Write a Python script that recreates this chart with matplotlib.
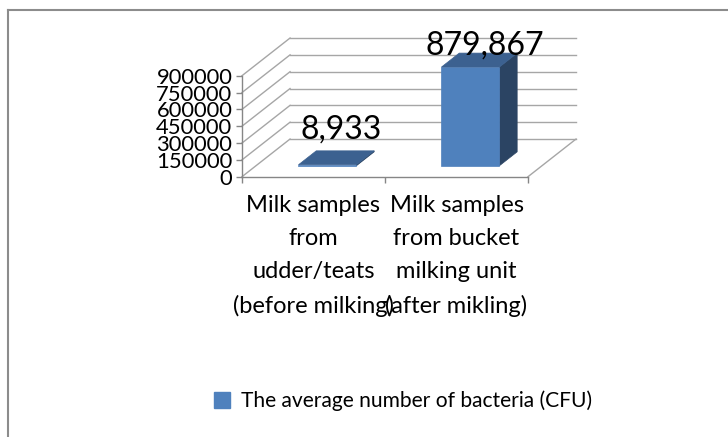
import matplotlib
matplotlib.use("Agg")
import matplotlib.pyplot as plt
from matplotlib.patches import Polygon, Patch
from matplotlib.lines import Line2D

plt.rcParams['font.family'] = ['Lato', 'DejaVu Sans']

categories = ["Milk samples\nfrom\nudder/teats\n(before milking)",
              "Milk samples\nfrom bucket\nmilking unit\n(after mikling)"]
bacteria = [8933, 879867]
y_ticks = [0, 150000, 300000, 450000, 600000, 750000, 900000]
series_name = "The average number of bacteria (CFU)"

# oblique 3D look: full floor depth expressed in data units
ymax = 900000
depth_dx = 0.336
depth_dy = 0.373 * ymax
bar_w = 0.405
bar_front = 0.29   # depth fraction where bars start
bar_depth = 0.37   # depth fraction of each bar
label_shift = [(5, 28), (5, 15)]  # pixel offsets of value labels

grid_col = "#a6a6a6"
axis_col = "#868686"
c_front, c_top, c_side = "#4f81bd", "#3c6190", "#2b4463"

fig = plt.figure(figsize=(7.28, 4.37), dpi=100)
ax = fig.add_axes([242 / 728, 1 - 176.7 / 437, 286 / 728, 101 / 437])
ax.set_xlim(0, 2)
ax.set_ylim(0, ymax)

# back wall and left wall grid
for v in y_ticks:
    ax.plot([depth_dx, 2 + depth_dx], [v + depth_dy, v + depth_dy],
            color=grid_col, lw=1, clip_on=False, zorder=1)
    ax.plot([0, depth_dx], [v, v + depth_dy],
            color=grid_col, lw=1, clip_on=False, zorder=1)
# right floor edge
ax.plot([2, 2 + depth_dx], [0, depth_dy], color=grid_col, lw=1,
        clip_on=False, zorder=1)

# bars
for i, v in enumerate(bacteria):
    x0 = i + 0.5 - bar_w / 2 + bar_front * depth_dx
    y0 = bar_front * depth_dy
    ddx = bar_depth * depth_dx
    ddy = bar_depth * depth_dy
    front = [(x0, y0), (x0 + bar_w, y0), (x0 + bar_w, y0 + v), (x0, y0 + v)]
    top = [(x0, y0 + v), (x0 + bar_w, y0 + v),
           (x0 + bar_w + ddx, y0 + v + ddy), (x0 + ddx, y0 + v + ddy)]
    side = [(x0 + bar_w, y0), (x0 + bar_w + ddx, y0 + ddy),
            (x0 + bar_w + ddx, y0 + v + ddy), (x0 + bar_w, y0 + v)]
    for pts, col in ((side, c_side), (front, c_front), (top, c_top)):
        ax.add_patch(Polygon(pts, closed=True, facecolor=col, edgecolor=col,
                             lw=0.5, clip_on=False, zorder=3))
    ax.annotate(f"{v:,}", (x0 + bar_w / 2 + ddx / 2, y0 + v + ddy / 2),
                xytext=label_shift[i], textcoords="offset pixels",
                ha="center", va="center", fontsize=23, color="black",
                annotation_clip=False, zorder=5)

# axes styling
for s in ("top", "right"):
    ax.spines[s].set_visible(False)
for s in ("left", "bottom"):
    ax.spines[s].set_color(axis_col)
    ax.spines[s].set_linewidth(1)
ax.set_facecolor("none")
ax.set_yticks(y_ticks)
ax.set_yticklabels([str(t) for t in y_ticks])
ax.tick_params(axis="y", length=4, width=1, color=axis_col, pad=3,
               labelsize=15.8)
ax.set_xticks([0, 1, 2])
ax.set_xticklabels(["", "", ""])
ax.tick_params(axis="x", which="major", length=4, width=1, color=axis_col)
ax.set_xticks([0.5, 1.5], minor=True)
ax.set_xticklabels(categories, minor=True, fontsize=17, linespacing=1.72)
ax.tick_params(axis="x", which="minor", length=0, pad=13)

# legend
fig.legend(handles=[Patch(facecolor=c_front, edgecolor=c_front)],
           labels=[series_name], loc="center",
           bbox_to_anchor=(403 / 728, 1 - 401 / 437), frameon=False,
           fontsize=15.1, handlelength=0.75, handleheight=0.75,
           handletextpad=0.5)

# chart area border
fig.add_artist(Line2D([8 / 728, 1], [1 - 9.5 / 437, 1 - 9.5 / 437],
                      color="#8c8c8c", lw=1.5))
fig.add_artist(Line2D([8 / 728, 8 / 728], [0, 1 - 9.5 / 437],
                      color="#8c8c8c", lw=1.5))

fig.savefig("out.png", dpi=100)
